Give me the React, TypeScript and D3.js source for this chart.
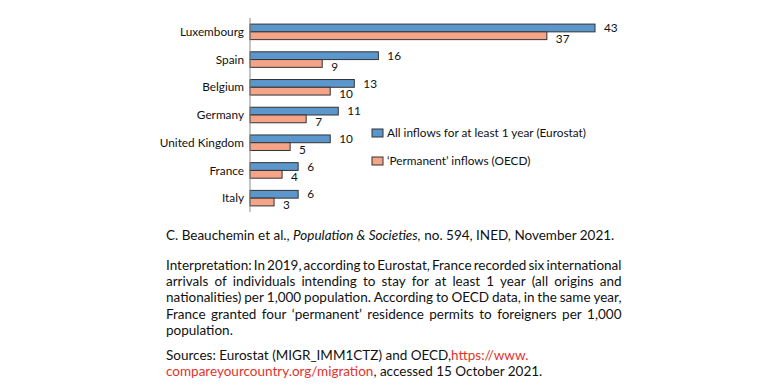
import { useEffect, useRef } from 'react';
import * as d3 from 'd3';

const countries = ['Luxembourg', 'Spain', 'Belgium', 'Germany', 'United Kingdom', 'France', 'Italy'];
const eurostat = [43, 16, 13, 11, 10, 6, 6];
const oecd = [37, 9, 10, 7, 5, 4, 3];
const seriesNames = ['All inflows for at least 1 year (Eurostat)', '\u2018Permanent\u2019 inflows (OECD)'];

const interpretation = [
  'Interpretation: In 2019, according to Eurostat, France recorded six international',
  'arrivals of individuals intending to stay for at least 1 year (all origins and',
  'nationalities) per 1,000 population. According to OECD data, in the same year,',
  'France granted four \u2018permanent\u2019 residence permits to foreigners per 1,000',
  'population.',
];

const FONT = 'Lato, "Open Sans", sans-serif';
const BLUE = '#5b97cd';
const ORANGE = '#f5a488';
const RED = '#e4322b';

export default function App() {
  const svgRef = useRef<SVGSVGElement>(null);

  useEffect(() => {
    if (!svgRef.current) return;
    const svg = d3.select(svgRef.current);
    svg.selectAll('*').remove();

    const axisX = 250;
    const x = d3.scaleLinear().domain([0, 43]).range([axisX, 595]);
    const y = d3.scaleBand<string>().domain(countries).range([18, 212]).paddingInner(0.44).paddingOuter(0.22);
    const sub = d3.scaleBand<number>().domain([0, 1]).range([0, y.bandwidth()]);

    const rows = countries.map((c, i) => ({ c, vals: [eurostat[i], oecd[i]] }));
    const colors = [BLUE, ORANGE];

    const chart = svg.append('g').attr('font-family', FONT).attr('font-size', 11.8).attr('fill', '#111');

    const row = chart.selectAll('g.row').data(rows).join('g').attr('class', 'row')
      .attr('transform', d => `translate(0,${y(d.c)})`);

    row.selectAll('rect').data(d => d.vals).join('rect')
      .attr('x', axisX)
      .attr('y', (_, j) => sub(j)!)
      .attr('width', d => x(d) - axisX)
      .attr('height', sub.bandwidth())
      .attr('fill', (_, j) => colors[j])
      .attr('stroke', '#333')
      .attr('stroke-width', 1);

    row.selectAll('text.val').data(d => d.vals).join('text').attr('class', 'val')
      .attr('x', d => x(d) + 9)
      .attr('y', (_, j) => sub(j)! + sub.bandwidth() / 2 + (j === 1 ? 3 : 0))
      .attr('dy', '0.35em')
      .text(d => d);

    row.append('text')
      .attr('x', 244)
      .attr('y', y.bandwidth() / 2)
      .attr('dy', '0.35em')
      .attr('text-anchor', 'end')
      .text(d => d.c);

    chart.append('line')
      .attr('x1', axisX).attr('x2', axisX)
      .attr('y1', 18).attr('y2', 212)
      .attr('stroke', '#8a8a8a').attr('stroke-width', 1);

    // legend
    const leg = chart.selectAll('g.leg').data(seriesNames).join('g').attr('class', 'leg')
      .attr('transform', (_, i) => `translate(372,${133 + i * 28})`);
    leg.append('rect').attr('x', 0).attr('y', -4).attr('width', 11).attr('height', 8)
      .attr('fill', (_, i) => colors[i]).attr('stroke', '#333');
    leg.append('text').attr('x', 15).attr('dy', '0.35em').text(d => d);

    // notes
    const notes = svg.append('g').attr('font-family', FONT).attr('font-size', 13.5).attr('fill', '#111');
    const left = 166, right = 621.5;

    const title = notes.append('text').attr('x', left).attr('y', 235).attr('dy', '0.35em');
    title.append('tspan').text('C. Beauchemin et al., ');
    title.append('tspan').attr('font-style', 'italic').text('Population & Societies,');
    title.append('tspan').text(' no. 594, INED, November 2021.');

    interpretation.forEach((line, i) => {
      const yy = 265 + i * 16.3;
      const words = line.split(' ');
      const g = notes.append('g');
      const texts = words.map(w => g.append('text').attr('y', yy).attr('dy', '0.35em').text(w));
      const widths = texts.map(t => (t.node() as SVGTextElement).getComputedTextLength());
      const last = i === interpretation.length - 1;
      const total = d3.sum(widths);
      const gap = last ? 3.4 : (right - left - total) / (words.length - 1);
      let cx = left;
      texts.forEach((t, k) => { t.attr('x', cx); cx += widths[k] + gap; });
    });

    const s1 = notes.append('text').attr('x', left).attr('y', 355.7).attr('dy', '0.35em');
    s1.append('tspan').text('Sources: Eurostat (MIGR_IMM1CTZ) and OECD,');
    s1.append('tspan').attr('fill', RED).text('https://www.');
    const s2 = notes.append('text').attr('x', left).attr('y', 371.7).attr('dy', '0.35em');
    s2.append('tspan').attr('fill', RED).text('compareyourcountry.org/migration');
    s2.append('tspan').text(', accessed 15 October 2021.');
  }, []);

  return (
    <svg ref={svgRef} width={771} height={388}
      style={{ position: 'absolute', left: 0, top: 0, background: '#fff' }} />
  );
}
